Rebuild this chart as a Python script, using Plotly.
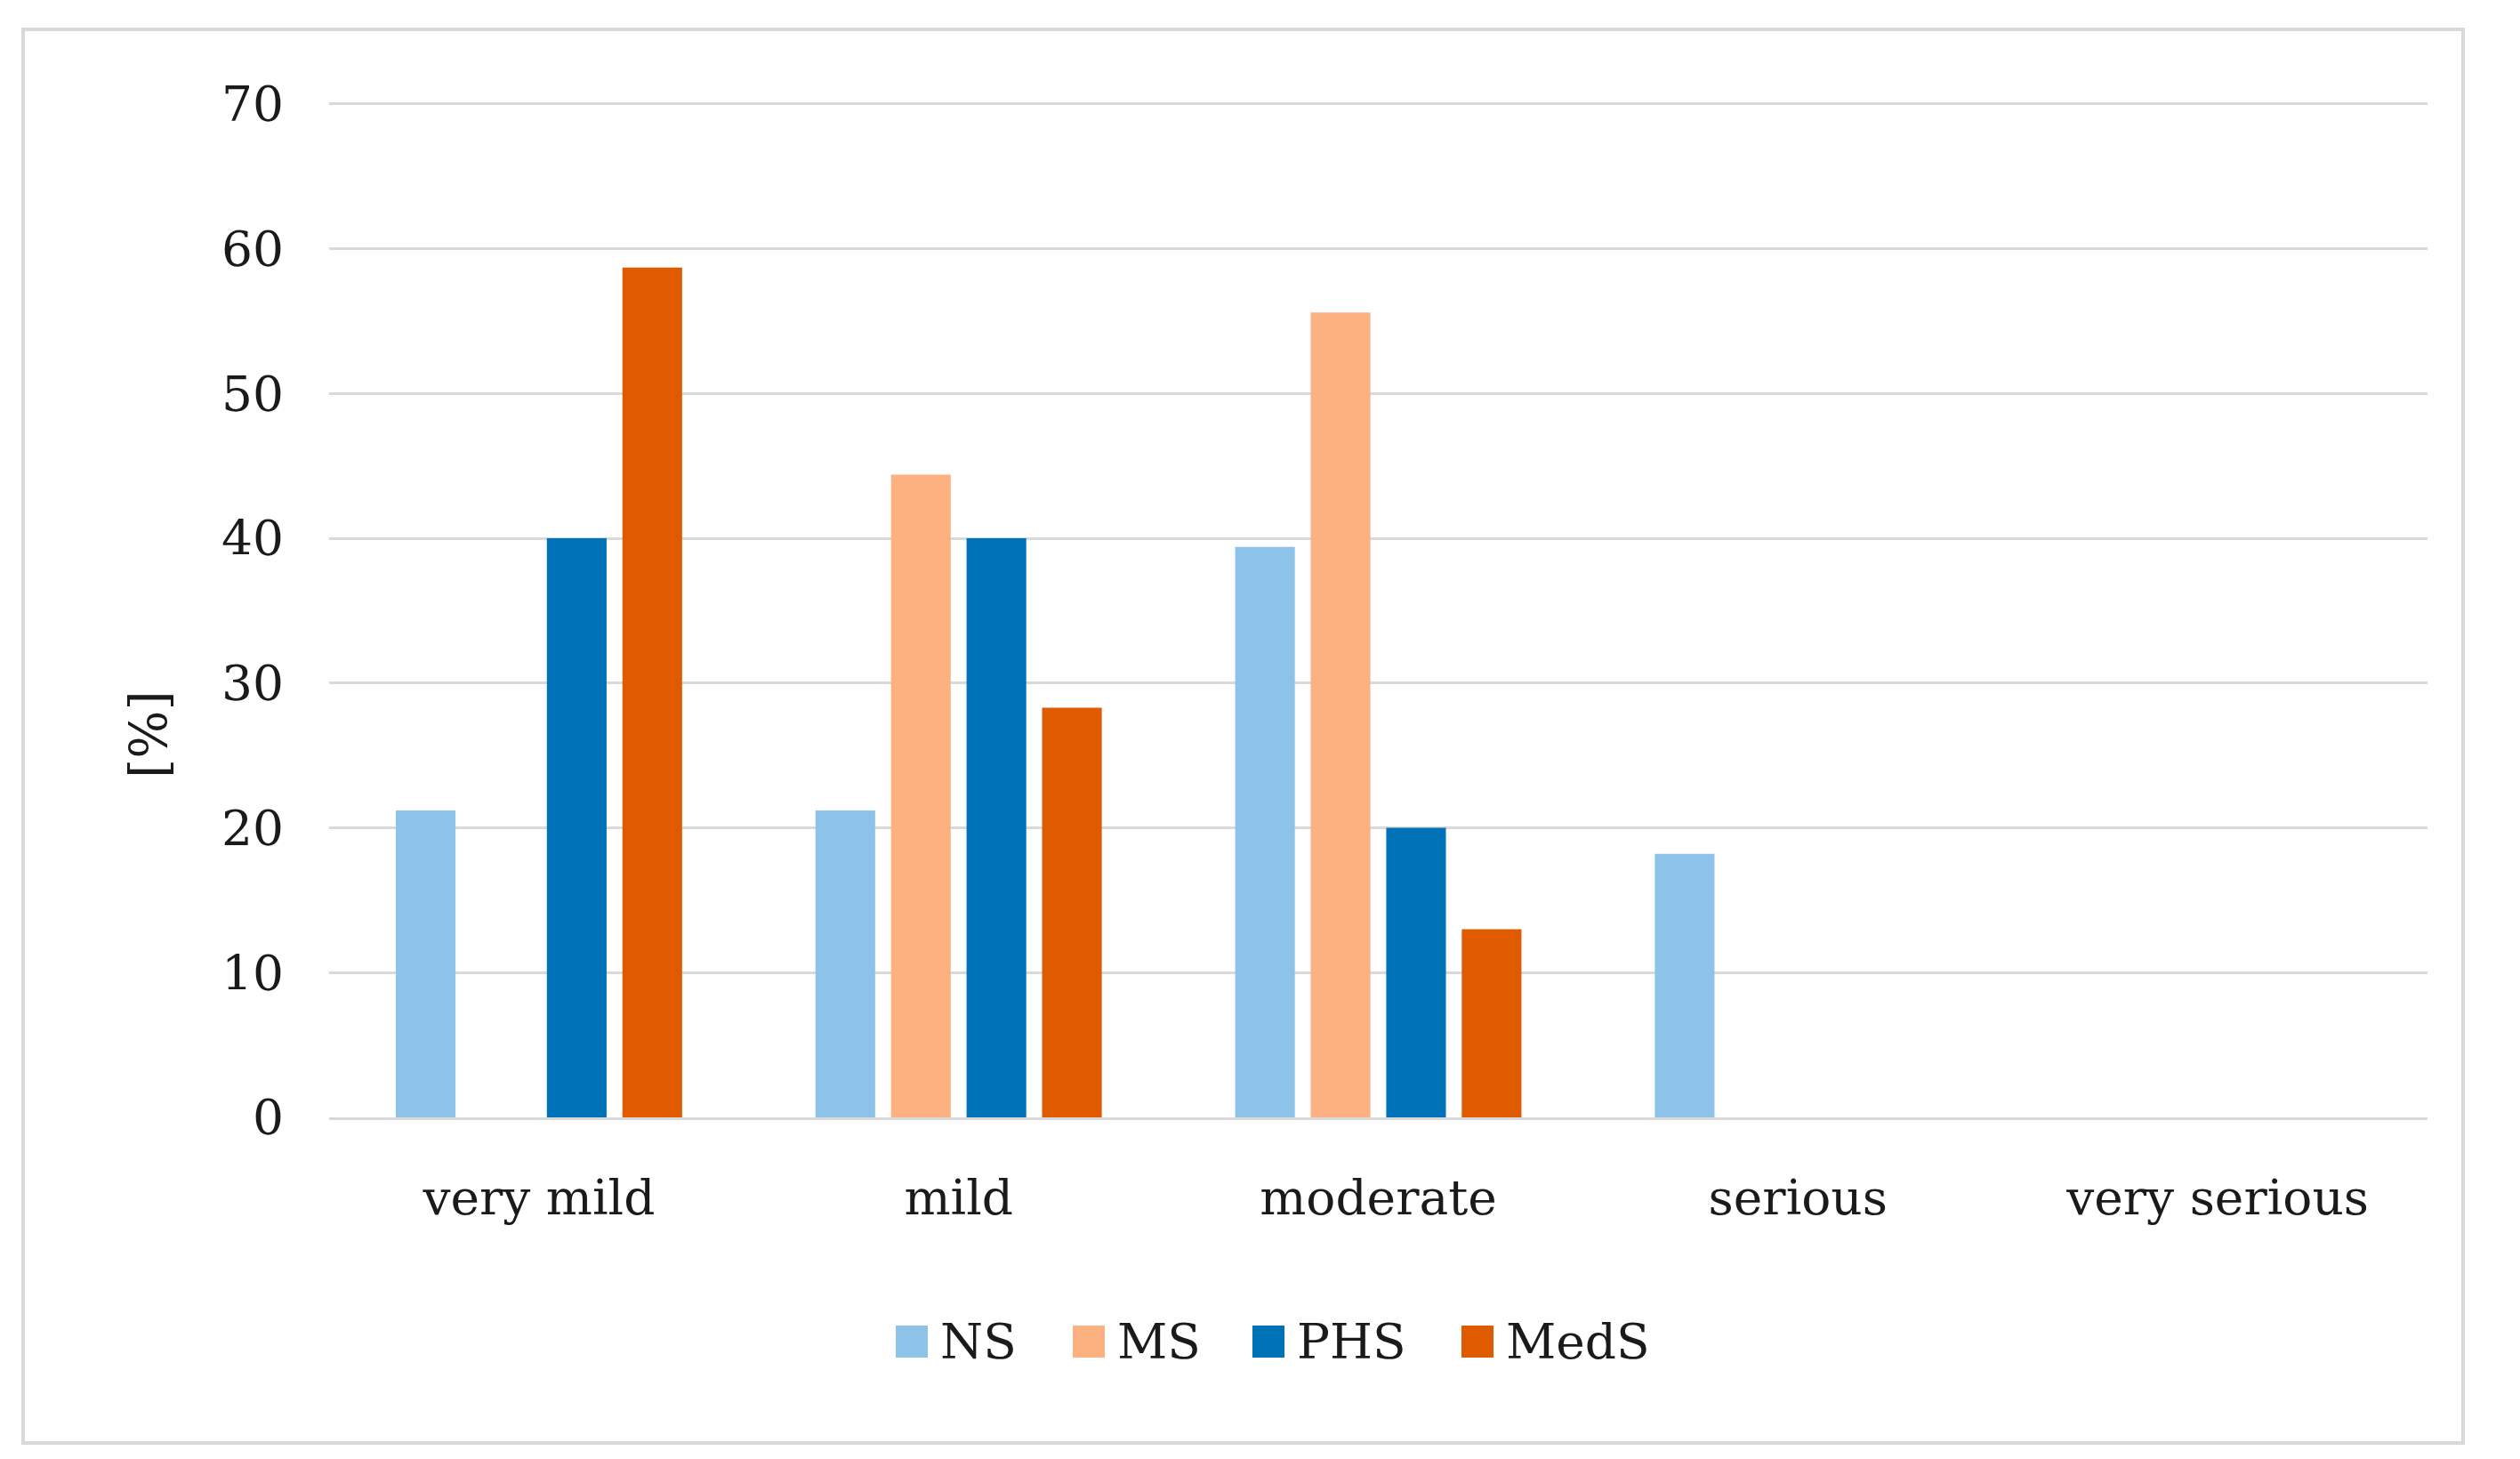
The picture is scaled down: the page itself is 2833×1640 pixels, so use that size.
import plotly.graph_objects as go

categories = ["very mild", "mild", "moderate", "serious", "very serious"]
series_names = ["NS", "MS", "PHS", "MedS"]
ns_values = [21.2, 21.2, 39.4, 18.2, 0]
ms_values = [0, 44.4, 55.6, 0, 0]
phs_values = [40.0, 40.0, 20.0, 0, 0]
meds_values = [58.7, 28.3, 13.0, 0, 0]
colors = ["#8DC3E8", "#FDB180", "#0072B8", "#E05A00"]
y_ticks = [0, 10, 20, 30, 40, 50, 60, 70]

FONT = "DejaVu Serif"
TXT = "#1a1a1a"
W, H = 2833, 1640
ML, MR, MT, MB = 362, 112, 104, 392
PW, PH = W - ML - MR, H - MT - MB

def px_x(p):
    return (p - ML) / PW

def px_y(p):
    return (H - MB - p) / PH

fig = go.Figure()
for name, vals, col in zip(series_names, [ns_values, ms_values, phs_values, meds_values], colors):
    fig.add_trace(go.Bar(name=name, x=categories, y=vals, marker=dict(color=col, line=dict(width=0)),
                         showlegend=False))

fig.update_layout(
    width=W, height=H,
    paper_bgcolor="white", plot_bgcolor="white",
    margin=dict(l=ML, r=MR, t=MT, b=MB),
    barmode="group", bargap=0.28, bargroupgap=0.21,
    font=dict(family=FONT, size=55, color=TXT),
    showlegend=False,
)
fig.update_xaxes(showgrid=False, showline=True, linecolor="#d9d9d9", linewidth=3,
                 ticks="", ticklabelstandoff=40, tickfont=dict(family=FONT, size=55, color=TXT))
fig.update_yaxes(range=[0, 70.3], tickvals=y_ticks, showgrid=True, gridcolor="#d9d9d9", gridwidth=3,
                 zeroline=False, showline=False, ticks="", ticklabelstandoff=50,
                 tickfont=dict(family=FONT, size=55, color=TXT))
fig.add_annotation(text="[%]", xref="paper", yref="paper", x=px_x(159), y=px_y(818),
                   textangle=-90, showarrow=False, xanchor="center", yanchor="middle",
                   font=dict(family=FONT, size=57, color=TXT))
fig.add_shape(type="rect", xref="paper", yref="paper", x0=px_x(18), x1=px_x(2761), y0=px_y(1614), y1=px_y(25),
              line=dict(color="#d9d9d9", width=4), fillcolor="rgba(0,0,0,0)", layer="below")

# custom legend (large square swatches)
legend_swatch_left = [999, 1198, 1400, 1635]
swatch_size = 36
legend_yc = 1500
for name, col, sx in zip(series_names, colors, legend_swatch_left):
    fig.add_shape(type="rect", xref="paper", yref="paper",
                  x0=px_x(sx), x1=px_x(sx + swatch_size),
                  y0=px_y(legend_yc + swatch_size / 2), y1=px_y(legend_yc - swatch_size / 2),
                  line=dict(width=0), fillcolor=col)
    fig.add_annotation(text=name, xref="paper", yref="paper", x=px_x(sx + swatch_size + 12), y=px_y(legend_yc),
                       showarrow=False, xanchor="left", yanchor="middle",
                       font=dict(family=FONT, size=55, color=TXT))

fig.write_html("out.html")
